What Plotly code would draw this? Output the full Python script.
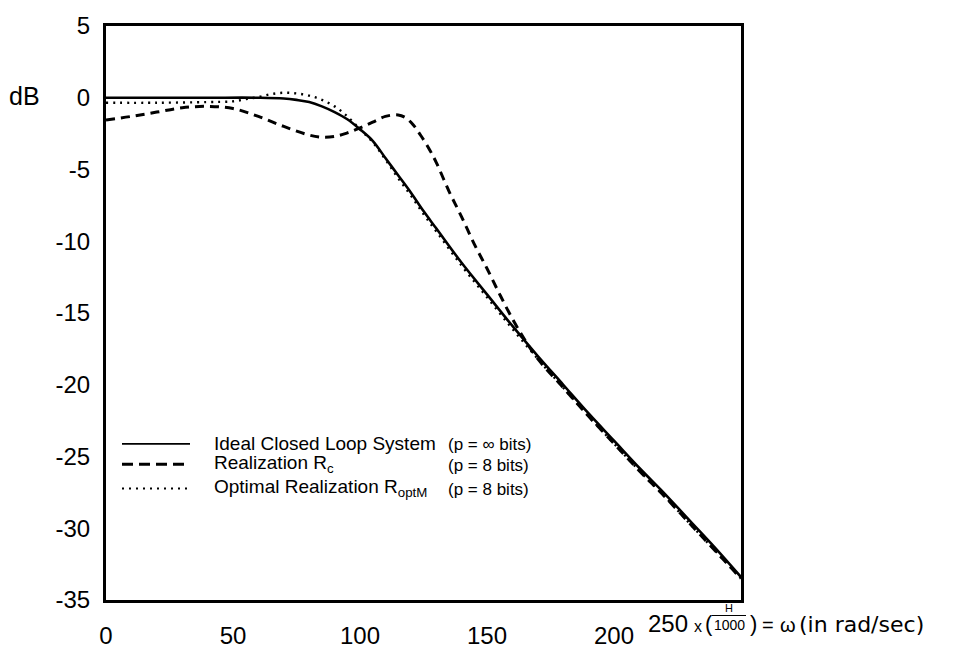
import plotly.graph_objects as go

# ---------------- data ----------------
x_ideal = [0, 20, 40, 60, 70, 75, 80, 85, 90, 95, 100, 105, 110, 115, 120, 125, 130,
           140, 150, 160, 170, 180, 190, 200, 210, 220, 230, 240, 250]
db_ideal = [0, 0, 0, 0, -0.05, -0.15, -0.3, -0.6, -1.0, -1.5, -2.2, -3.0, -4.2, -5.4,
            -6.6, -7.9, -9.1, -11.5, -13.7, -15.9, -18.0, -20.0, -22.0, -23.9, -25.8,
            -27.6, -29.5, -31.4, -33.4]

x_rc = [0, 10, 20, 30, 40, 50, 60, 70, 80, 85, 90, 95, 100, 105, 110, 115, 118, 121,
        124, 127, 130, 135, 140, 145, 150, 155, 160, 165, 170, 180, 190, 200, 210,
        220, 230, 240, 250]
db_rc = [-1.55, -1.3, -1.0, -0.7, -0.6, -0.75, -1.3, -2.0, -2.6, -2.75, -2.7, -2.45,
         -2.1, -1.7, -1.3, -1.2, -1.4, -1.9, -2.65, -3.5, -4.5, -6.5, -8.3, -10.2,
         -11.9, -13.7, -15.4, -16.9, -18.2, -20.2, -22.2, -24.1, -26.0, -27.8, -29.7,
         -31.6, -33.5]

x_opt = [0, 20, 40, 50, 55, 60, 65, 70, 75, 80, 85, 90, 95, 100, 105, 110, 115, 120,
         125, 130, 140, 150, 160, 170, 180, 190, 200, 210, 220, 230, 240, 250]
db_opt = [-0.35, -0.35, -0.3, -0.25, -0.1, 0.05, 0.25, 0.35, 0.3, 0.15, -0.15, -0.6,
          -1.3, -2.2, -3.1, -4.3, -5.6, -6.8, -8.1, -9.3, -11.7, -13.9, -16.1, -18.2,
          -20.2, -22.2, -24.1, -26.0, -27.8, -29.7, -31.6, -33.5]

x_ticks = [0, 50, 100, 150, 200]
y_ticks = [5, 0, -5, -10, -15, -20, -25, -30, -35]

legend_names = ["Ideal Closed Loop System", "Realization R<sub>c</sub>",
                "Optimal Realization R<sub>optM</sub>"]
legend_bits = ["(p = \u221e bits)", "(p = 8 bits)", "(p = 8 bits)"]

# ---------------- layout geometry ----------------
W, H = 979, 661
L, R, T, B = 106, 741, 12, 604
FONT = "Liberation Sans, Arial, Helvetica, sans-serif"
WIDE = "DejaVu Sans, Liberation Sans, sans-serif"


def px(x):
    return (x - L) / (R - L)


def py(y):
    return (B - y) / (B - T)


def txt(x, y, s, size, anchor="left", family=FONT):
    return dict(xref="paper", yref="paper", x=px(x), y=py(y), text=s, showarrow=False,
                xanchor=anchor, yanchor="middle",
                font=dict(family=family, size=size, color="black"))


fig = go.Figure()
fig.add_trace(go.Scatter(x=x_ideal, y=db_ideal, mode="lines", line_shape="spline",
                         line=dict(color="black", width=2.6), showlegend=False))
fig.add_trace(go.Scatter(x=x_rc, y=db_rc, mode="lines", line_shape="spline",
                         line=dict(color="black", width=3, dash="9px,6px"),
                         showlegend=False))
fig.add_trace(go.Scatter(x=x_opt, y=db_opt, mode="lines", line_shape="spline",
                         line=dict(color="black", width=2.4, dash="2px,5px"),
                         showlegend=False))

annotations = []
shapes = []

# manual legend
leg_y = [443, 464, 489]
leg_dash = ["solid", "11px,6px", "2px,5px"]
leg_w = [1.6, 3, 2.2]
for i in range(3):
    shapes.append(dict(type="line", xref="paper", yref="paper",
                       x0=px(122), x1=px(190), y0=py(leg_y[i]), y1=py(leg_y[i]),
                       line=dict(color="black", width=leg_w[i], dash=leg_dash[i])))
    annotations.append(txt(212, leg_y[i], legend_names[i], 19))
    annotations.append(txt(446, leg_y[i] + 1, legend_bits[i], 17))

# y label
annotations.append(txt(7, 84, "dB", 25))

# x-axis label with the last tick
annotations.append(txt(646, 628, "250", 24))
annotations.append(txt(692, 631, "x", 16))
annotations.append(txt(703, 628, "(", 22))
annotations.append(txt(729, 612, "H", 11, "center"))
shapes.append(dict(type="line", xref="paper", yref="paper", x0=px(712), x1=px(746),
                   y0=py(620), y1=py(620), line=dict(color="black", width=1.2)))
annotations.append(txt(729, 630, "1000", 14, "center"))
annotations.append(txt(748, 628, ")", 22))
annotations.append(txt(760, 630, "=", 20))
annotations.append(txt(778, 630, "\u03c9", 20))
annotations.append(txt(797, 629, "(in rad/sec)", 22, "left", WIDE))

fig.update_layout(
    width=W, height=H, autosize=False,
    margin=dict(l=L, r=W - R, t=T, b=H - B, pad=0),
    paper_bgcolor="white", plot_bgcolor="white",
    font=dict(family=FONT, color="black"),
    showlegend=False,
    annotations=annotations, shapes=shapes,
    xaxis=dict(range=[0, 250], tickvals=x_ticks, ticktext=[str(v) for v in x_ticks],
               showgrid=False, zeroline=False, showline=True, linecolor="black",
               linewidth=3, mirror=True, ticks="", ticklabelstandoff=12,
               tickfont=dict(family=FONT, size=24, color="black")),
    yaxis=dict(range=[-35, 5], tickvals=y_ticks, ticktext=[str(v) for v in y_ticks],
               showgrid=False, zeroline=False, showline=True, linecolor="black",
               linewidth=3, mirror=True, ticks="", ticklabelstandoff=8,
               tickfont=dict(family=FONT, size=24, color="black")),
)

fig.write_html("out.html")
